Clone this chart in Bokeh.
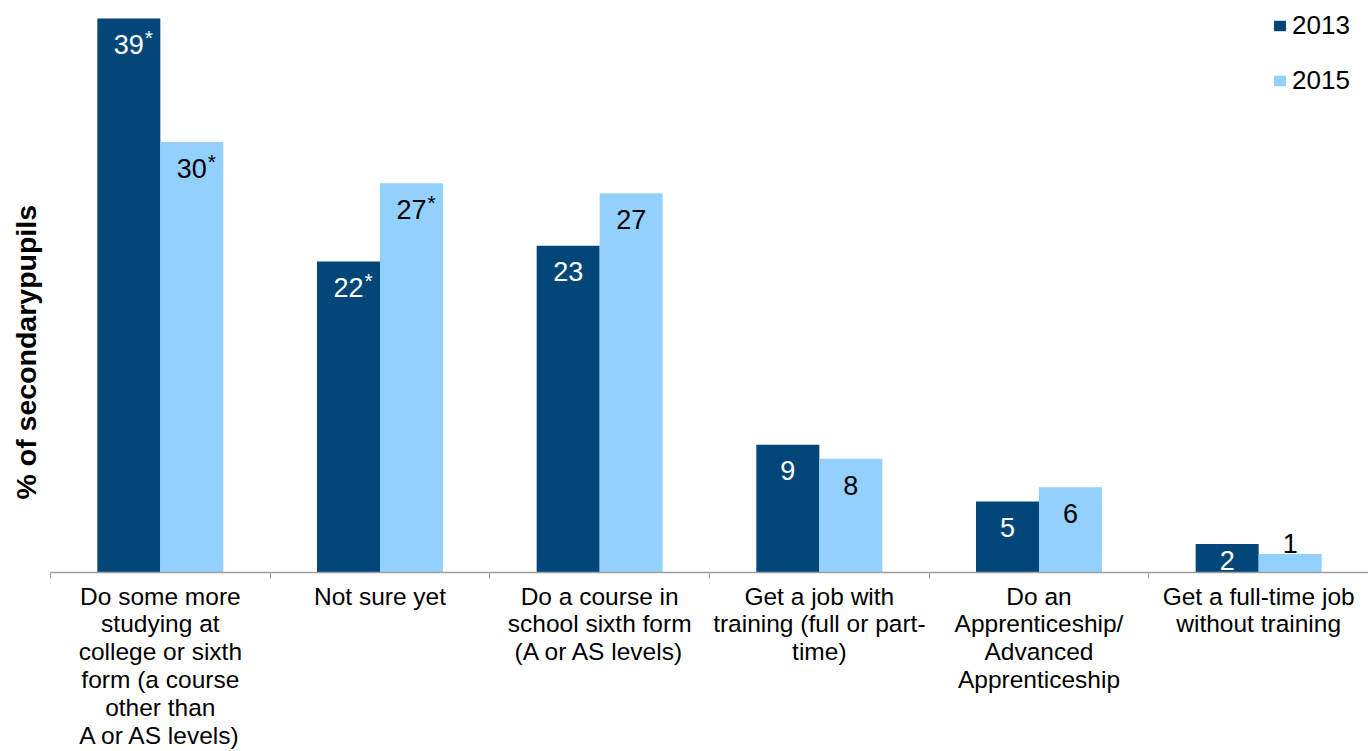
from bokeh.plotting import figure
from bokeh.models import Range1d, FixedTicker, LinearAxis, Title, ColumnDataSource
from bokeh.embed import file_html
from bokeh.resources import INLINE

categories = [
    "Do some more\nstudying at\ncollege or sixth\nform (a course\nother than\nA or AS levels)",
    "Not sure yet",
    "Do a course in\nschool sixth form\n(A or AS levels)",
    "Get a job with\ntraining (full or part-\ntime)",
    "Do an\nApprenticeship/\nAdvanced\nApprenticeship",
    "Get a full-time job\nwithout training",
]
series_names = ["2013", "2015"]
values_2013 = [39.0, 21.9, 23.0, 9.0, 5.0, 2.0]
values_2015 = [30.3, 27.4, 26.7, 8.0, 6.0, 1.3]
labels_2013 = ["39", "22", "23", "9", "5", "2"]
labels_2015 = ["30", "27", "27", "8", "6", "1"]
significant_2013 = [True, True, False, False, False, False]
significant_2015 = [True, True, False, False, False, False]
y_title = "% of secondarypupils"

FONT = "Liberation Sans"
DARK = "#03467a"
LIGHT = "#92d1fe"
Y_MAX = 40.27
PX = 568 / Y_MAX  # approx pixels per unit
BAR_W = 0.2868
NUM_FONT = 27

p = figure(width=1368, height=751, x_range=Range1d(0, len(categories)),
           y_range=Range1d(0, Y_MAX), output_backend="svg", toolbar_location=None,
           x_axis_location=None, y_axis_location=None,
           min_border_left=50, min_border_right=0, min_border_top=0, min_border_bottom=0)
p.outline_line_color = None
p.xgrid.visible = False
p.ygrid.visible = False
p.background_fill_color = "white"
p.border_fill_color = "white"

centers = [i + 0.5 for i in range(len(categories))]
bounds = [i for i in range(len(categories) + 1)]

xaxis = LinearAxis(ticker=FixedTicker(ticks=centers, minor_ticks=bounds))
xaxis.major_label_overrides = {c: lab for c, lab in zip(centers, categories)}
xaxis.major_tick_out = 0
xaxis.major_tick_in = 0
xaxis.minor_tick_out = 6
xaxis.minor_tick_in = 0
xaxis.minor_tick_line_color = "#a0a0a0"
xaxis.axis_line_color = "#a0a0a0"
xaxis.axis_line_width = 1.5
xaxis.major_label_text_font = FONT
xaxis.major_label_text_font_size = "24.5px"
xaxis.major_label_text_color = "black"
xaxis.major_label_text_line_height = 1.03
xaxis.major_label_standoff = 4
p.add_layout(xaxis, "below")

x13 = [c - BAR_W / 2 for c in centers]
x15 = [c + BAR_W / 2 for c in centers]
p.vbar(x=x13, top=values_2013, width=BAR_W, bottom=0, fill_color=DARK, line_color=None,
       legend_label=series_names[0])
p.vbar(x=x15, top=values_2015, width=BAR_W, bottom=0, fill_color=LIGHT, line_color=None,
       legend_label=series_names[1])


def label_data(xs, vals, labs, sig, inside_color):
    ly, lc, ax, ay, acol, atx = [], [], [], [], [], []
    for x, v, t, s in zip(xs, vals, labs, sig):
        h = v * PX
        if h >= 45:
            y, col = v - 26 / PX, inside_color
        elif h >= 24:
            y, col = 12 / PX, inside_color
        else:
            y, col = v + 10 / PX, "black"
        ly.append(y)
        lc.append(col)
        if s:
            ax.append(x)
            ay.append(y + 7 / PX)
            acol.append(col)
            atx.append("*")
    return ly, lc, ax, ay, acol, atx


for xs, vals, labs, sig, ic in [(x13, values_2013, labels_2013, significant_2013, "white"),
                                (x15, values_2015, labels_2015, significant_2015, "black")]:
    ly, lc, ax, ay, acol, atx = label_data(xs, vals, labs, sig, ic)
    src = ColumnDataSource(dict(x=xs, y=ly, t=labs, c=lc))
    p.text(x="x", y="y", text="t", text_color="c", source=src, text_align="center",
           text_baseline="alphabetic", text_font_size=f"{NUM_FONT}px",
           text_font={"value": FONT})
    if ax:
        asrc = ColumnDataSource(dict(x=ax, y=ay, t=atx, c=acol))
        p.text(x="x", y="y", text="t", text_color="c", source=asrc, text_align="left",
               text_baseline="alphabetic", text_font_size="21px", x_offset=16,
               text_font={"value": FONT})

leg = p.legend[0]
leg.location = "top_right"
leg.border_line_color = None
leg.background_fill_alpha = 0
leg.margin = 0
leg.padding = 4
leg.glyph_width = 15
leg.glyph_height = 13
leg.label_height = 50
leg.label_width = 76
leg.label_standoff = 5
leg.spacing = 5
leg.label_text_font = FONT
leg.label_text_font_size = "26px"
leg.label_text_color = "black"

yt = Title(text=y_title, align="left", offset=73, text_font=FONT, text_font_size="28.5px",
           text_font_style="bold", text_color="black", standoff=14, vertical_align="top")
p.add_layout(yt, "left")

open("out.html", "w").write(file_html(p, INLINE))
